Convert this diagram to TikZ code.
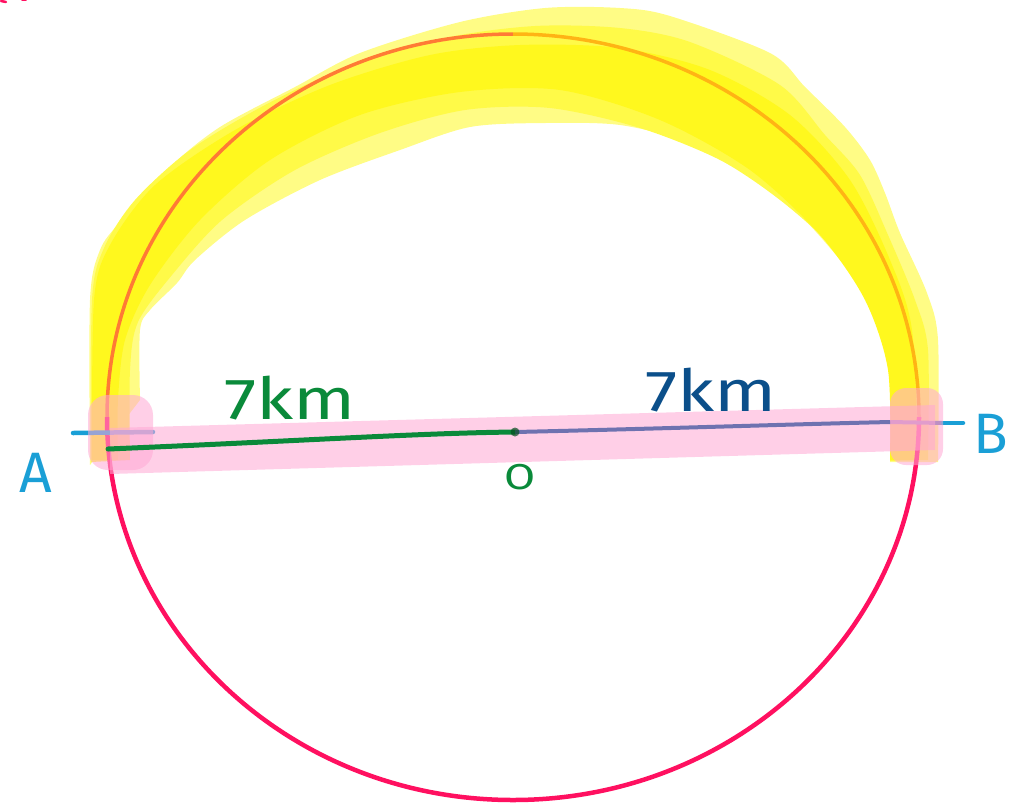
\documentclass[tikz,border=0pt]{standalone}
\usepackage{fontspec}
\setsansfont{Fira Sans}
\definecolor{paleY}{HTML}{FFFC85}
\definecolor{midY}{HTML}{FFFA48}
\definecolor{coreY}{HTML}{FFF81E}
\definecolor{pinkHL}{HTML}{FFA8D4}
\definecolor{circPink}{HTML}{FF1060}
\definecolor{arcL}{HTML}{FF7A35}
\definecolor{arcR}{HTML}{FFB414}
\definecolor{tickBlue}{HTML}{1A9FD6}
\definecolor{slate}{HTML}{6E72B0}
\definecolor{darkGreen}{HTML}{0A8A3A}
\definecolor{navy}{HTML}{0B4F8A}
\begin{document}
\begin{tikzpicture}[x=1pt,y=-1pt,
  hl/.style={fill=pinkHL,fill opacity=0.55},
  lbl/.style={font=\sffamily\fontsize{57}{60}\selectfont,inner sep=0pt},
  kmlbl/.style={font=\sffamily\fontsize{58}{60}\selectfont,inner sep=0pt,xscale=1.25}]
\useasboundingbox (0,0) rectangle (1030,807);
\coordinate (C) at (513,417);
\coordinate (A) at (108,449);
\coordinate (O) at (515,432);
\coordinate (Bc) at (890,422);
\coordinate (Bt) at (943,423);
\coordinate (Be) at (963,423);
\coordinate (At) at (73,433);
\coordinate (Ae) at (153,432);
% red scribbles at top-left
\draw[circPink,line width=2.5pt,line cap=round] (1,1) -- (6,2);
\draw[circPink,line width=1.5pt,line cap=round] (22,0.5) -- (26,0.5);
% yellow highlight
\fill[paleY] plot[smooth] coordinates {(90,465) (90,300) (100,250) (120,222) (170,167) (220,127) (295,87) (360,53) (460,22) (545,8) (620,8) (670,16) (770,53) (805,87) (845,127) (870,160) (885,193) (900,233) (927,293) (938,340) (938,462)}
  -- plot[smooth] coordinates {(890,462) (888,350) (863,293) (840,260) (805,220) (770,187) (745,167) (695,143) (620,125) (545,123) (470,127) (400,150) (320,180) (245,220) (195,260) (177,283) (150,310) (140,330) (140,400)} -- cycle;
\fill[midY] plot[smooth] coordinates {(91,462) (92,300) (104,248) (135,200) (190,150) (265,105) (345,68) (445,38) (535,26) (620,28) (690,42) (780,85) (825,135) (860,175) (888,235) (915,300) (928,350) (928,460)}
  -- plot[smooth] coordinates {(890,461) (888,360) (864,296) (830,245) (780,200) (720,160) (640,128) (550,108) (465,110) (380,133) (295,170) (222,220) (172,275) (138,322) (130,370) (130,460)} -- cycle;
\fill[coreY] plot[smooth] coordinates {(92,460) (94,300) (110,245) (155,185) (235,130) (330,85) (430,55) (520,45) (620,48) (710,70) (790,115) (850,180) (890,260) (912,330) (918,460)}
  -- plot[smooth] coordinates {(890,460) (888,370) (865,300) (820,235) (750,170) (660,120) (560,90) (460,92) (360,115) (270,160) (200,220) (150,285) (125,340) (118,400) (118,460)} -- cycle;
% circle
\draw[arcL,line width=3.5pt] (C) ++(180:406 and 383) arc[start angle=180,end angle=270,x radius=406,y radius=383];
\draw[arcR,line width=3.5pt] (C) ++(270:406 and 383) arc[start angle=270,end angle=360,x radius=406,y radius=383];
\draw[circPink,line width=4.5pt] (C) ++(0:406 and 383) arc[start angle=0,end angle=180,x radius=406,y radius=383];
% ticks (under caps)
\draw[tickBlue,line width=4.5pt,line cap=round] (At) -- (Ae);
\draw[slate,line width=4pt] (Bc) -- (Bt);
\draw[tickBlue,line width=4.5pt,line cap=round] (Bt) -- (Be);
% pink band and caps
\fill[hl] (110,428) -- (935,405) -- (935,450) -- (110,474) -- cycle;
\fill[hl,rounded corners=20pt] (88,395) rectangle (153,470);
\fill[hl,rounded corners=16pt] (890,388) rectangle (943,465);
% radius lines
\draw[darkGreen,line width=5pt,line cap=round] (A) .. controls (300,441) and (420,433) .. (O);
\draw[slate,line width=4pt] (O) .. controls (650,429) and (800,424) .. (Bc);
\fill[black!45!darkGreen,opacity=0.7] (O) circle[radius=4.5pt];
% labels
\node[lbl,text=tickBlue] (lA) at (36,473) {A};
\node[lbl,text=tickBlue] (lB) at (991,434) {B};
\node[font=\sffamily\fontsize{36}{38}\selectfont,inner sep=0pt,xscale=1.25,text=darkGreen] (lO) at (520,477) {O};
\node[kmlbl,text=darkGreen] (k1) at (290,398) {7km};
\node[kmlbl,text=navy] (k2) at (711,390) {7km};
\end{tikzpicture}
\end{document}
